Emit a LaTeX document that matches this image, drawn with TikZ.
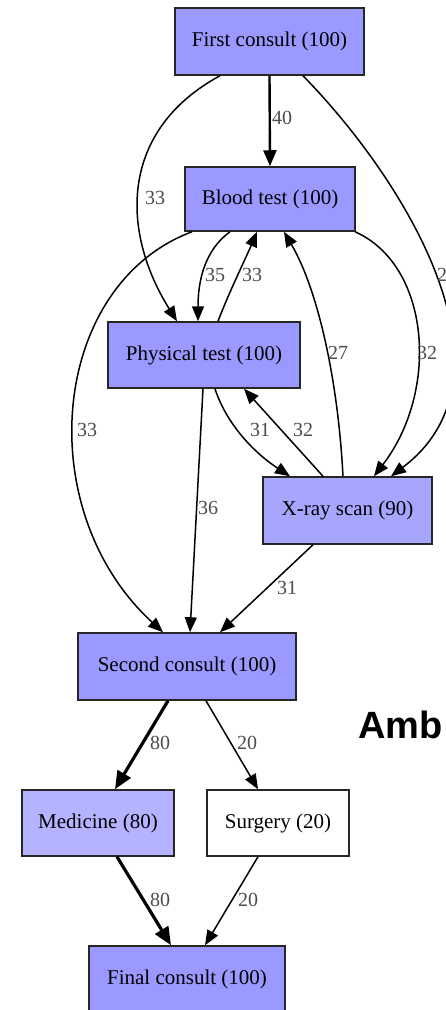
\documentclass[tikz,border=0pt]{standalone}
\usepackage{fontspec}
\setmainfont{Liberation Serif}
\newfontfamily\headfont{Liberation Sans}
\usetikzlibrary{arrows.meta}
\definecolor{full}{HTML}{9999FF}
\definecolor{ninety}{HTML}{A6A6FF}
\definecolor{eighty}{HTML}{B3B3FF}
\begin{document}
\begin{tikzpicture}[x=1pt,y=-1pt,
  box/.style={draw=black!85, line width=1.5pt, inner sep=0pt,
    minimum height=66pt, font=\fontsize{21}{23}\selectfont},
  flow/.style={line width=1.5pt, -{Triangle[length=15pt,width=12pt]}},
  medium/.style={line width=2.4pt, -{Triangle[length=16pt,width=13pt]}},
  heavy/.style={line width=3.2pt, -{Triangle[length=18pt,width=15pt]}},
  lbl/.style={font=\fontsize{20}{21}\selectfont, text=black!70,
    inner sep=0pt, anchor=west},
]
\useasboundingbox (0,0) rectangle (446,1010);
\clip (0,0) rectangle (446,1010);
\fill[white] (0,0) rectangle (446,1010);

% activity boxes
\node[box, fill=full, minimum width=189pt, minimum height=67pt] (first) at (269.5,41.5) {First consult (100)};
\node[box, fill=full, minimum width=170pt, minimum height=64pt] (blood) at (270,199) {Blood test (100)};
\node[box, fill=full, minimum width=192pt] (phys) at (204,355) {Physical test (100)};
\node[box, fill=ninety, minimum width=169pt, minimum height=67pt] (xray) at (347.5,510.5) {X-ray scan (90)};
\node[box, fill=full, minimum width=218pt, minimum height=67pt] (second) at (187,666.5) {Second consult (100)};
\node[box, fill=eighty, minimum width=152pt] (med) at (98,823) {Medicine (80)};
\node[box, fill=white, minimum width=142pt] (surg) at (278,823) {Surgery (20)};
\node[box, fill=full, minimum width=196pt] (final) at (187,979) {Final consult (100)};

% transitions
\draw[medium] (first.south) -- (blood.north);
\node[lbl] (l1) at (272,118) {40};

\draw[flow] (first.south -| 220,0) .. controls (120,130) and (120,230) .. (phys.north -| 177,0);
\node[lbl] (l2) at (145,198) {33};

\draw[flow] (first.south -| 303,0) .. controls (405,180) and (525,375) .. (xray.north -| 391,0);
\node[lbl] (l3) at (437,275) {27};

\draw[flow] (blood.south -| 230,0) .. controls (205,250) and (198,280) .. (phys.north -| 198,0);
\node[lbl] (l4) at (205,275) {35};

\draw[flow] (phys.north -| 218,0) .. controls (230,290) and (245,260) .. (blood.south -| 257,0);
\node[lbl] (l5) at (242,275) {33};

\draw[flow] (xray.north -| 343,0) .. controls (338,380) and (318,290) .. (blood.south -| 284,0);
\node[lbl] (l6) at (328,353) {27};

\draw[flow] (blood.south -| 355,0) .. controls (430,265) and (440,390) .. (xray.north -| 374,0);
\node[lbl] (l7) at (417,353) {32};

\draw[flow] (blood.south -| 192,0) .. controls (50,285) and (30,510) .. (second.north -| 163,0);
\node[lbl] (l8) at (77,430) {33};

\draw[flow] (phys.south -| 215,0) .. controls (225,420) and (250,450) .. (xray.north -| 290,0);
\node[lbl] (l9) at (250,430) {31};

\draw[flow] (xray.north -| 323,0) -- (phys.south -| 244,0);
\node[lbl] (l10) at (293,430) {32};

\draw[flow] (phys.south -| 203,0) -- (second.north -| 190,0);
\node[lbl] (l11) at (198,508) {36};

\draw[flow] (xray.south -| 313,0) -- (second.north -| 220,0);
\node[lbl] (l12) at (277,588) {31};

\draw[heavy] (second.south -| 168,0) -- (med.north -| 115,0);
\node[lbl] (l13) at (150,743) {80};

\draw[flow] (second.south -| 206,0) -- (surg.north -| 258,0);
\node[lbl] (l14) at (237,743) {20};

\draw[heavy] (med.south -| 117,0) -- (final.north -| 171,0);
\node[lbl] (l15) at (150,900) {80};

\draw[flow] (surg.south -| 258,0) -- (final.north -| 205,0);
\node[lbl] (l16) at (238,900) {20};

% heading beside the graph
\node[font=\headfont\bfseries\fontsize{38}{40}\selectfont, anchor=base west, inner sep=0pt] (amb) at (358,738) {Amb};
\end{tikzpicture}
\end{document}
